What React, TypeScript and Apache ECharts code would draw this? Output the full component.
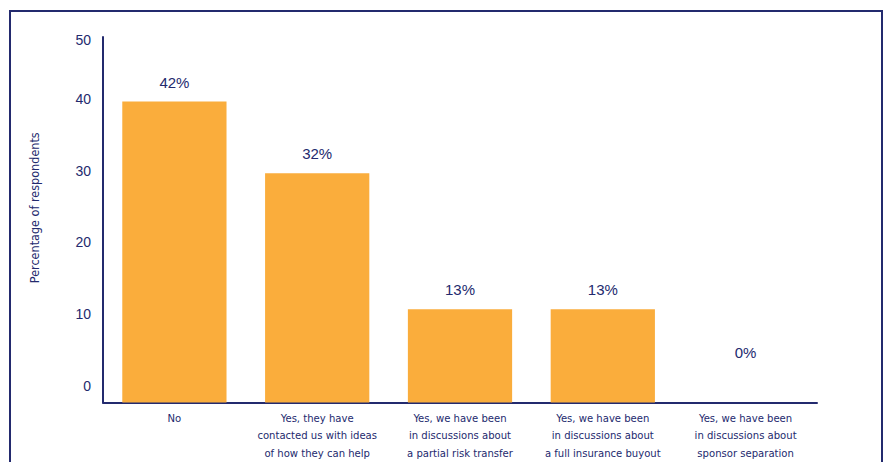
import React, { useEffect, useRef } from "react";
import * as echarts from "echarts";

const categories = [
  "No",
  "Yes, they have\ncontacted us with ideas\nof how they can help",
  "Yes, we have been\nin discussions about\na partial risk transfer",
  "Yes, we have been\nin discussions about\na full insurance buyout",
  "Yes, we have been\nin discussions about\nsponsor separation",
];
const values = [42, 32, 13, 13, 0];
const yTickLabels = [0, 10, 20, 30, 40, 50];
const yAxisTitle = "Percentage of respondents";

const NAVY = "#232a6e";
const ORANGE = "#faad3c";
const NARROW = "'DejaVu Sans Condensed', 'DejaVu Sans', sans-serif";
const SANS = "'Liberation Sans', Arial, sans-serif";

export default function App() {
  const ref = useRef<HTMLDivElement>(null);
  useEffect(() => {
    document.body.style.margin = "0";
    const chart = echarts.init(ref.current!, null, { renderer: "svg" });
    chart.setOption({
      animation: false,
      backgroundColor: "#ffffff",
      graphic: [
        {
          type: "rect",
          shape: { x: 10, y: 11, width: 872, height: 500 },
          style: { fill: "none", stroke: NAVY, lineWidth: 2 },
          silent: true,
        },
      ],
      grid: { left: 103, right: 70, top: 37, bottom: 59 },
      xAxis: {
        type: "category",
        data: categories,
        axisLine: { show: true, lineStyle: { color: NAVY, width: 2 } },
        axisTick: { show: false },
        axisLabel: {
          interval: 0,
          margin: 7,
          color: NAVY,
          fontFamily: NARROW,
          fontSize: 11.2,
          lineHeight: 17.5,
        },
      },
      yAxis: {
        type: "value",
        min: 0,
        max: 51,
        interval: 10,
        name: yAxisTitle,
        nameLocation: "middle",
        nameGap: 62,
        nameTextStyle: {
          color: NAVY,
          fontFamily: NARROW,
          fontSize: 12.5,
          padding: [0, 0, 0, 24],
        },
        axisLine: { show: true, lineStyle: { color: NAVY, width: 2 } },
        axisTick: { show: false },
        splitLine: { show: false },
        axisLabel: {
          margin: 12,
          color: NAVY,
          fontFamily: SANS,
          fontSize: 14,
          formatter: (v: number) => {
            if (!yTickLabels.includes(v)) return "";
            return v === 50 ? "{t|" + v + "}" : "{n|" + v + "}";
          },
          rich: {
            n: { color: NAVY, fontFamily: SANS, fontSize: 14, padding: [0, 0, 34, 0] },
            t: { color: NAVY, fontFamily: SANS, fontSize: 14, padding: [0, 0, 8, 0] },
          },
        },
      },
      series: [
        {
          type: "bar",
          data: values.map((v) =>
            v === 0 ? { value: v, label: { offset: [0, -31] } } : v
          ),
          barCategoryGap: "27%",
          itemStyle: { color: ORANGE },
          label: {
            show: true,
            position: "top",
            distance: 12,
            color: NAVY,
            fontFamily: SANS,
            fontSize: 15,
            formatter: "{c}%",
          },
        },
      ],
    });
    return () => chart.dispose();
  }, []);
  return (
    <div
      ref={ref}
      style={{ position: "absolute", left: 0, top: 0, width: 887, height: 462 }}
    />
  );
}
